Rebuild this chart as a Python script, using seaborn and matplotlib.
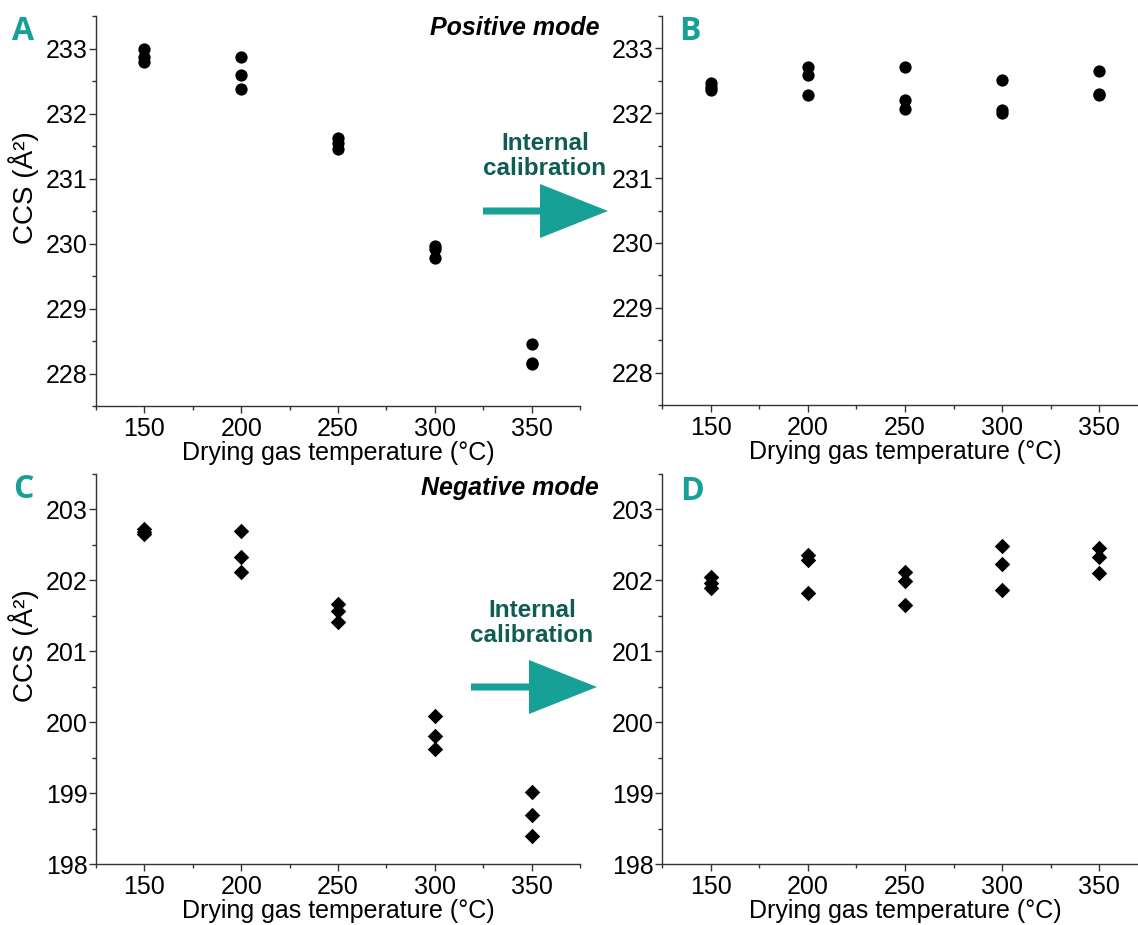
import matplotlib
matplotlib.use('Agg')
import pandas as pd
import matplotlib.pyplot as plt
from matplotlib.ticker import MultipleLocator
from matplotlib.patches import FancyArrow
import seaborn as sns

# CCS values, three replicates per temperature
temperature = [150, 150, 150, 200, 200, 200, 250, 250, 250,
               300, 300, 300, 350, 350, 350]
pos_raw = [233.00, 232.87, 232.80, 232.87, 232.59, 232.37, 231.62, 231.54, 231.46,
           229.96, 229.92, 229.77, 228.45, 228.16, 228.14]
pos_cal = [232.46, 232.41, 232.36, 232.71, 232.59, 232.28, 232.71, 232.20, 232.07,
           232.51, 232.05, 232.00, 232.65, 232.29, 232.28]
neg_raw = [202.72, 202.68, 202.65, 202.69, 202.33, 202.12, 201.67, 201.57, 201.41,
           200.09, 199.81, 199.62, 199.01, 198.69, 198.39]
neg_cal = [202.05, 201.96, 201.89, 202.36, 202.29, 201.82, 202.12, 201.99, 201.65,
           202.49, 202.23, 201.87, 202.45, 202.33, 202.10]

df = pd.DataFrame({'temperature': temperature, 'pos_raw': pos_raw, 'pos_cal': pos_cal,
                   'neg_raw': neg_raw, 'neg_cal': neg_cal})

sns.set_style('ticks')
plt.rcParams['font.family'] = ['Liberation Sans', 'DejaVu Sans']
plt.rcParams['axes.edgecolor'] = '#333333'
plt.rcParams['text.color'] = 'black'
plt.rcParams['axes.labelcolor'] = 'black'

W, H = 1138, 925
fig = plt.figure(figsize=(W / 100, H / 100), dpi=100)


def box(l, t, r, b):
    return [l / W, 1 - b / H, (r - l) / W, (b - t) / H]


panels = [
    (box(96, 16, 580, 406), 'pos_raw', 'o', 78, (227.5, 233.5), True),
    (box(662, 16, 1148, 405), 'pos_cal', 'o', 78, (227.5, 233.5), False),
    (box(96, 474, 580, 864), 'neg_raw', 'D', 62, (198, 203.5), True),
    (box(662, 474, 1148, 864), 'neg_cal', 'D', 62, (198, 203.5), False),
]

for pos, col, mk, size, ylim, ylab in panels:
    ax = fig.add_axes(pos)
    sns.scatterplot(data=df, x='temperature', y=col, marker=mk, s=size,
                    color='black', linewidth=0, ax=ax)
    ax.set_xlim(125, 375)
    ax.set_ylim(*ylim)
    ax.xaxis.set_major_locator(MultipleLocator(50))
    ax.xaxis.set_minor_locator(MultipleLocator(25))
    ax.yaxis.set_major_locator(MultipleLocator(1))
    ax.yaxis.set_minor_locator(MultipleLocator(0.5))
    sns.despine(ax=ax)
    for s in ['left', 'bottom']:
        ax.spines[s].set_linewidth(1.0)
    ax.tick_params(which='major', direction='out', length=5, width=1,
                   color='#333333', labelcolor='black', labelsize=18, pad=1)
    ax.tick_params(axis='x', which='major', pad=3)
    ax.tick_params(which='minor', direction='out', length=3, width=1, color='#333333')
    ax.set_xlabel('Drying gas temperature (°C)', fontsize=18, labelpad=0)
    if ylab:
        ax.set_ylabel('CCS (Å²)', fontsize=20)
        ax.yaxis.set_label_coords(-0.117, 0.56)
    else:
        ax.set_ylabel('')

# overlay in pixel coordinates for the annotations
ov = fig.add_axes([0, 0, 1, 1])
ov.set_xlim(0, W)
ov.set_ylim(H, 0)
ov.axis('off')
ov.patch.set_alpha(0)

teal = '#17a096'
dark_teal = '#0e5c54'

for letter, x, y in [('A', 23, 32), ('B', 690, 32), ('C', 23, 489), ('D', 692, 491)]:
    ov.text(x, y, letter, color=teal, fontsize=23, fontweight='bold',
            family=['Open Sans', 'DejaVu Sans'], ha='center', va='center')

ov.text(600, 28, 'Positive mode', fontsize=18, fontweight='bold', style='italic',
        ha='right', va='center')
ov.text(599, 488, 'Negative mode', fontsize=18, fontweight='bold', style='italic',
        ha='right', va='center')

for tx, ty, x0, x1, y in [(545, 156, 483, 608, 211), (532, 623, 471, 597, 687)]:
    ov.text(tx, ty, 'Internal\ncalibration', color=dark_teal, fontsize=17.5,
            fontweight='bold', ha='center', va='center', linespacing=1.15)
    ov.add_patch(FancyArrow(x0, y, x1 - x0, 0, width=7, head_width=54, head_length=68,
                            length_includes_head=True, color=teal, lw=0))

fig.savefig('out.png', dpi=100)
